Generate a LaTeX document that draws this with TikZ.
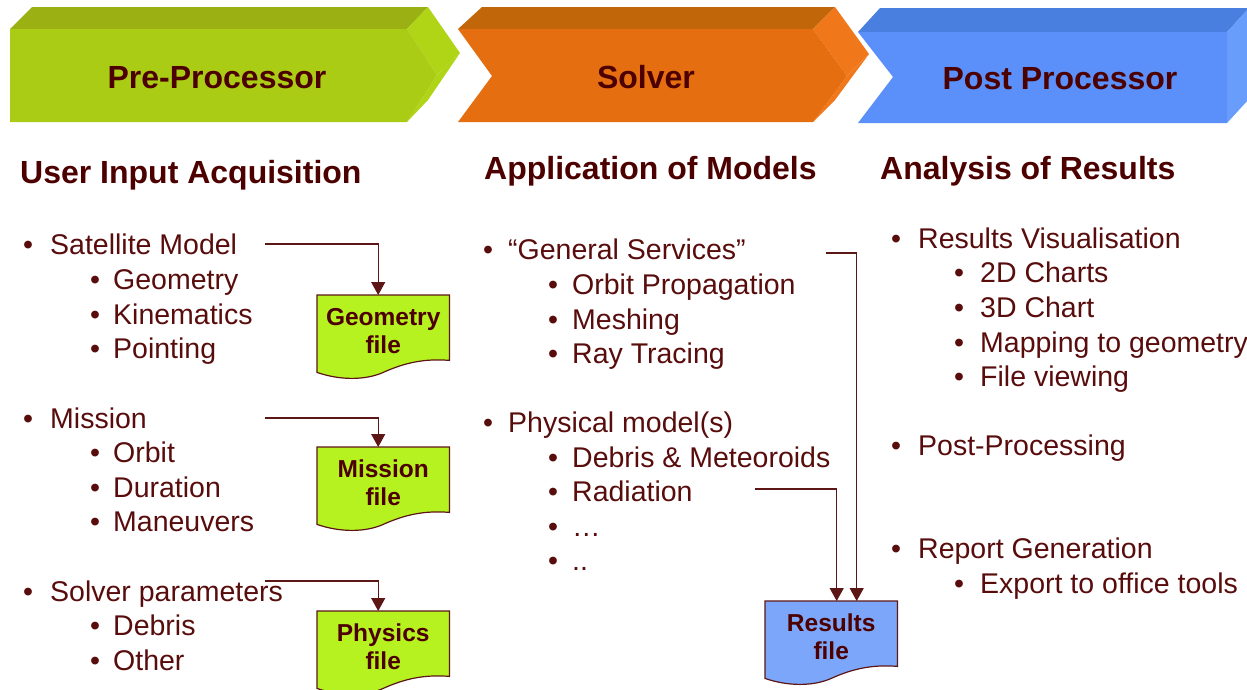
\documentclass[tikz,border=0pt]{standalone}
\usepackage{fontspec}
\setmainfont{Liberation Sans}
\usetikzlibrary{arrows.meta, backgrounds}

\definecolor{ink}{RGB}{88,12,12}
\definecolor{headink}{RGB}{77,0,0}
\definecolor{linkcol}{RGB}{92,22,22}
\definecolor{greenfront}{RGB}{170,204,20}
\definecolor{greentop}{RGB}{155,176,18}
\definecolor{greenside}{RGB}{176,212,22}
\definecolor{orangefront}{RGB}{229,110,16}
\definecolor{orangetop}{RGB}{193,103,10}
\definecolor{orangeside}{RGB}{240,120,26}
\definecolor{bluefront}{RGB}{91,143,250}
\definecolor{bluetop}{RGB}{73,127,222}
\definecolor{blueside}{RGB}{104,157,252}
\definecolor{limefill}{RGB}{182,242,32}
\definecolor{resultfill}{RGB}{124,166,250}

% document outline with wavy bottom, drawn behind the node text
\newcommand{\docoutline}[2]{%
  \begin{scope}[on background layer]
    \filldraw[fill=#2, draw=linkcol, line width=1.2pt]
      (#1.north west) -- (#1.north east) -- ([yshift=6pt]#1.south east)
      .. controls +(-24,-2) and +(22,-10) .. ([yshift=-6pt]#1.south)
      .. controls +(-18,8) and +(23,8) .. ([yshift=-6pt]#1.south west) -- cycle;
  \end{scope}}

\begin{document}
\begin{tikzpicture}[x=1pt, y=-1pt,
    banner/.style={anchor=base, text=headink, inner sep=0, font=\fontsize{32}{38}\selectfont\bfseries},
    heading/.style={anchor=base west, text=headink, inner sep=0, font=\fontsize{32}{38}\selectfont\bfseries},
    item/.style={anchor=base west, text=ink, inner sep=0, font=\fontsize{28.5}{34}\selectfont},
    dot/.style={anchor=base, text=ink, inner sep=0, font=\fontsize{28.5}{34}\selectfont},
    docfile/.style={anchor=north west, minimum width=132pt, minimum height=71pt, inner sep=0,
        align=center, text=headink, font=\fontsize{24.5}{28}\selectfont\bfseries},
    link/.style={draw=linkcol, line width=1.3pt, -{Triangle[width=14pt,length=13pt]}}]
    \useasboundingbox (0,0) rectangle (1247,689);

    % Banners
    \fill[greentop] (10,29) -- (32,7) -- (428,7) -- (407,29) -- cycle;
    \fill[greenside] (407,29) -- (428,7) -- (460,53) -- (437,75) -- cycle;
    \fill[greenside] (437,75) -- (460,53) -- (428,100) -- (407,122) -- cycle;
    \fill[greenfront] (10,29) -- (407,29) -- (437,75) -- (407,122) -- (10,122) -- cycle;

    \fill[orangetop] (458,29) -- (482,7) -- (835,7) -- (813,29) -- cycle;
    \fill[orangeside] (813,29) -- (835,7) -- (869,54) -- (847,76) -- cycle;
    \fill[orangeside] (847,76) -- (869,54) -- (835,100) -- (813,122) -- cycle;
    \fill[orangefront] (458,29) -- (813,29) -- (847,76) -- (813,122) -- (458,122) -- (492,76) -- cycle;

    \fill[bluetop] (858,32) -- (880,8) -- (1249,8) -- (1227,32) -- cycle;
    \fill[blueside] (1227,32) -- (1249,8) -- (1249,99) -- (1227,123) -- cycle;
    \fill[bluefront] (858,32) -- (1227,32) -- (1227,123) -- (858,123) -- (893,77) -- cycle;

    \node[banner] (pre) at (217,88) {Pre-Processor};
    \node[banner] (solver) at (646,88) {Solver};
    \node[banner] (post) at (1060,89) {Post Processor};

    % Column headings
    \node[heading] (userinput) at (20,183) {User Input Acquisition};
    \node[heading] (models) at (484,179) {Application of Models};
    \node[heading] (analysis) at (880,179) {Analysis of Results};

    % Left column
    \foreach \n/\y/\t in {satmodel/254/Satellite Model, mission/428/Mission, solverpar/601/Solver parameters}{
        \node[dot] (\n-dot) at (28,\y) {\textbullet};
        \node[item] (\n) at (50,\y) {\t};
    }
    \foreach \n/\y/\t in {geometry/289/Geometry, kinematics/324/Kinematics, pointing/358/Pointing,
        orbit/462/Orbit, duration/497/Duration, maneuvers/531/Maneuvers, debris/635/Debris, other/670/Other}{
        \node[dot] (\n-dot) at (95,\y) {\textbullet};
        \node[item] (\n) at (113,\y) {\t};
    }

    % Middle column
    \foreach \n/\y/\t in {gensrv/259/“General Services”, physmodel/432/Physical model(s)}{
        \node[dot] (\n-dot) at (488,\y) {\textbullet};
        \node[item] (\n) at (508,\y) {\t};
    }
    \foreach \n/\y/\t in {orbitprop/294/Orbit Propagation, meshing/329/Meshing, raytracing/363/Ray Tracing,
        debmet/467/Debris \& Meteoroids, radiation/501/Radiation, dotsa/536/…, dotsb/570/{..}}{
        \node[dot] (\n-dot) at (553,\y) {\textbullet};
        \node[item] (\n) at (572,\y) {\t};
    }

    % Right column
    \foreach \n/\y/\t in {resvis/248/Results Visualisation, postproc/455/Post-Processing, report/558/Report Generation}{
        \node[dot] (\n-dot) at (896,\y) {\textbullet};
        \node[item] (\n) at (918,\y) {\t};
    }
    \foreach \n/\y/\t in {charts/282/2D Charts, chart/317/3D Chart, mapping/352/Mapping to geometry,
        fileview/386/File viewing, export/593/Export to office tools}{
        \node[dot] (\n-dot) at (959,\y) {\textbullet};
        \node[item] (\n) at (980,\y) {\t};
    }

    % Files
    \node[docfile] (geomfile) at (317,295) {Geometry\\file};
    \node[docfile] (missionfile) at (317,447) {Mission\\file};
    \node[docfile] (physicsfile) at (317,611) {Physics\\file};
    \node[docfile] (resultsfile) at (765,601) {Results\\file};
    \docoutline{geomfile}{limefill}
    \docoutline{missionfile}{limefill}
    \docoutline{physicsfile}{limefill}
    \docoutline{resultsfile}{resultfill}

    % Links into the files
    \coordinate (geomlink) at (265,244);
    \coordinate (missionlink) at (265,418);
    \coordinate (physicslink) at (265,581);
    \coordinate (srvlink) at (826,253);
    \coordinate (radlink) at (755,489);
    \draw[link] (geomlink) -| ([xshift=-5pt]geomfile.north);
    \draw[link] (missionlink) -| ([xshift=-5pt]missionfile.north);
    \draw[link] (physicslink) -| ([xshift=-5pt]physicsfile.north);
    \draw[link] (radlink) -| ([xshift=5.5pt]resultsfile.north);
    \draw[link] (srvlink) -| ([xshift=25.5pt]resultsfile.north);
\end{tikzpicture}
\end{document}
